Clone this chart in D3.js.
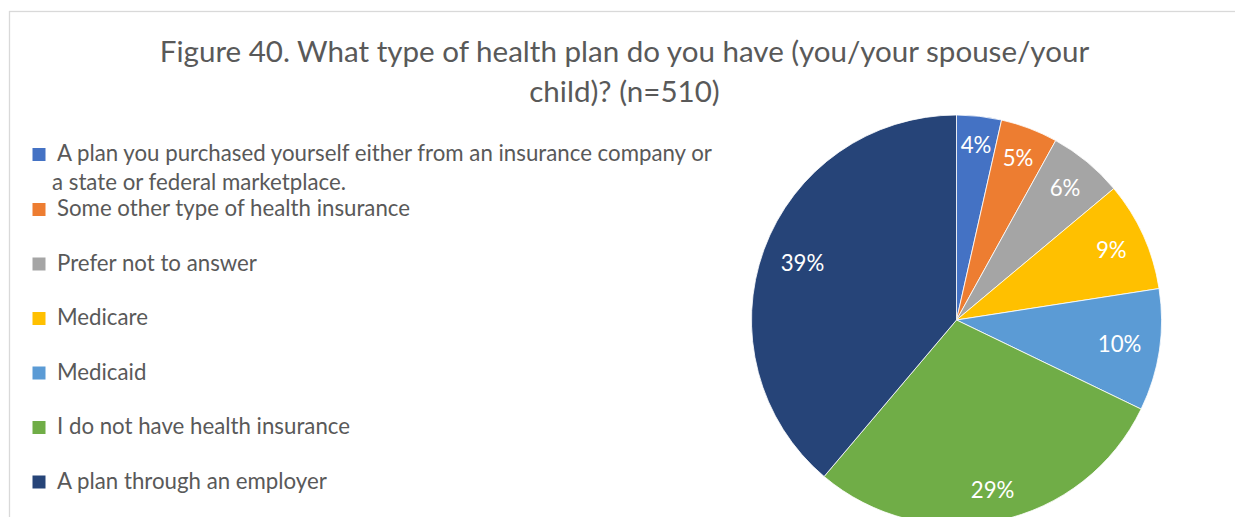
<!DOCTYPE html>
<html>
<head>
<meta charset="utf-8">
<script src="https://cdn.jsdelivr.net/npm/d3@7"></script>
<style>
  body { margin: 0; background: #fff; }
  text { font-family: Lato, "Open Sans", sans-serif; }
</style>
</head>
<body>
<div id="chart"></div>
<script>
// chart data (counts of 510 respondents)
const titleLines = ["Figure 40. What type of health plan do you have (you/your spouse/your", "child)? (n=510)"];
const categories = [
    "A plan you purchased yourself either from an insurance company or a state or federal marketplace.",
    "Some other type of health insurance",
    "Prefer not to answer",
    "Medicare",
    "Medicaid",
    "I do not have health insurance",
    "A plan through an employer"
];
const counts = [18, 23, 30, 44, 49, 148, 198];
const colors = ["#4472C4", "#ED7D31", "#A5A5A5", "#FFC000", "#5B9BD5", "#70AD47", "#264478"];

const width = 1235, height = 517;
const cx = 956.5, cy = 320, radius = 205;

const svg = d3.select("#chart").append("svg")
    .attr("width", width)
    .attr("height", height);

// chart area border (runs off the right and bottom of the picture)
svg.append("rect")
    .attr("x", 9.5).attr("y", 11.5)
    .attr("width", 1400).attr("height", 700)
    .attr("fill", "#fff")
    .attr("stroke", "#d9d9d9")
    .attr("stroke-width", 1.3);

// pick a font size so a string comes out at the wanted width
function fitSize(str, target) {
    let t = svg.append("text").style("font-size", "20px").text(str);
    let len = t.node().getComputedTextLength();
    t.remove();
    return 20 * target / len;
}

const titleSize = fitSize(titleLines[0], 930);
const legendSize = fitSize("Prefer not to answer", 200);

// title
svg.selectAll(".title")
    .data(titleLines)
    .enter().append("text")
    .attr("class", "title")
    .attr("x", 624.5)
    .attr("y", (d, i) => 62 + i * 40)
    .attr("text-anchor", "middle")
    .style("font-size", titleSize + "px")
    .style("fill", "#595959")
    .text(d => d);

// legend
const legend = svg.append("g").attr("class", "legend");
const baseY = i => i == 0 ? 161 : 216 + (i - 1) * 54.5;

categories.forEach(function(cat, i) {
    let y = baseY(i);
    legend.append("rect")
        .attr("x", 32.5).attr("y", y - 13)
        .attr("width", 13).attr("height", 13)
        .attr("fill", colors[i]);

    let t = legend.append("text")
        .attr("y", y)
        .style("font-size", legendSize + "px")
        .style("fill", "#595959");

    // simple word wrap at the legend width
    let words = cat.split(" "), line = [], lineNo = 0;
    let tspan = t.append("tspan").attr("x", 57).attr("y", y);
    words.forEach(function(w) {
        line.push(w);
        tspan.text(line.join(" "));
        if (tspan.node().getComputedTextLength() > 670 && line.length > 1) {
            line.pop();
            tspan.text(line.join(" "));
            line = [w];
            lineNo++;
            tspan = t.append("tspan").attr("x", 52).attr("y", y + lineNo * 28.6).text(w);
        }
    });
});

// pie
const pie = d3.pie().sort(null).value(d => d);
const arcs = pie(counts);
const arc = d3.arc().innerRadius(0).outerRadius(radius);
const total = d3.sum(counts);

const g = svg.append("g").attr("transform", "translate(" + cx + "," + cy + ")");

g.selectAll(".slice")
    .data(arcs)
    .enter().append("path")
    .attr("class", "slice")
    .attr("d", arc)
    .attr("fill", (d, i) => colors[i])
    .attr("stroke", "#fff")
    .attr("stroke-width", 0.8);

// labels sit inside the outer end of each slice
g.selectAll(".label")
    .data(arcs)
    .enter().append("text")
    .attr("class", "label")
    .attr("text-anchor", "middle")
    .attr("dy", "0.35em")
    .style("font-size", legendSize + "px")
    .style("fill", "#fff")
    .text(d => Math.round(d.value / total * 100) + "%")
    .each(function(d) {
        let a = (d.startAngle + d.endAngle) / 2;
        let hw = this.getComputedTextLength() / 2, hh = 10;
        let r = radius - 17 - (hw * Math.abs(Math.sin(a)) + hh * Math.abs(Math.cos(a)));
        d3.select(this)
            .attr("x", r * Math.sin(a))
            .attr("y", -r * Math.cos(a));
    });
</script>
</body>
</html>
